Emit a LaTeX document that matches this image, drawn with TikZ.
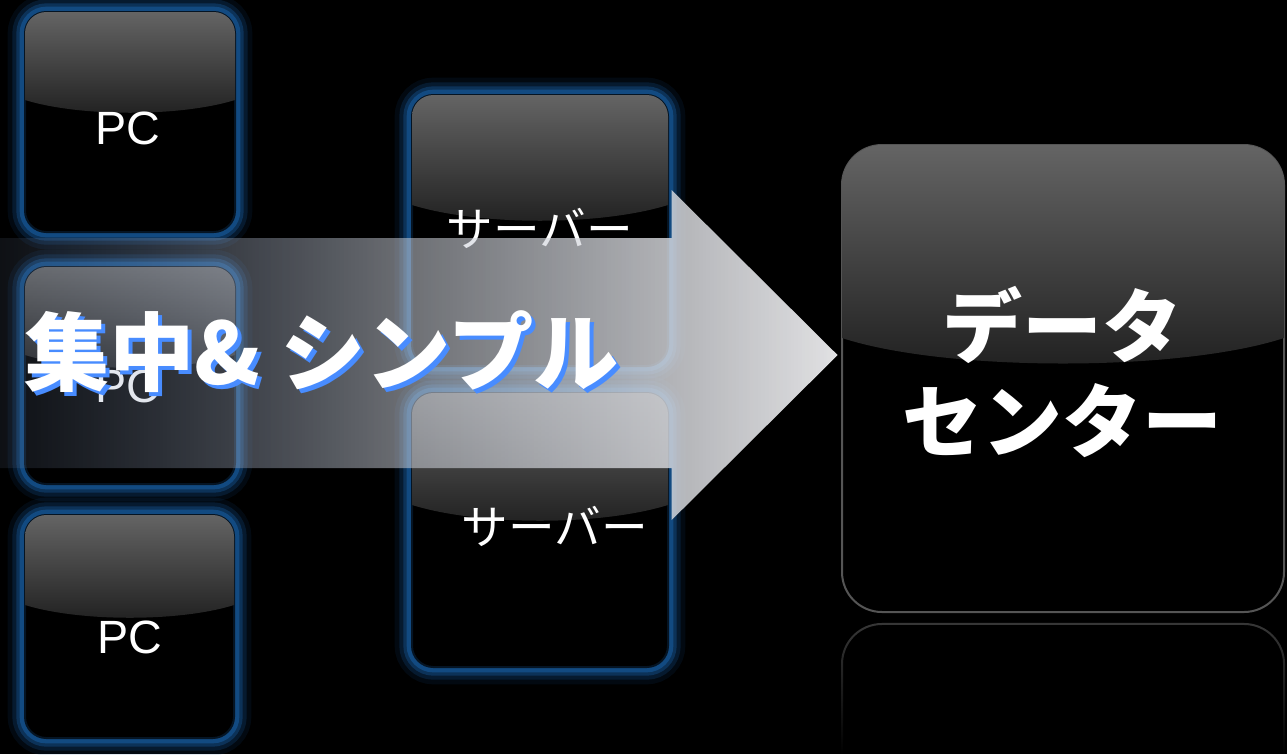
\documentclass[tikz,border=0pt]{standalone}
\usepackage{fontspec}
\setmainfont{Liberation Sans}
\newfontfamily\cjk{Noto Sans CJK JP}
\usetikzlibrary{fadings}

\definecolor{glowblue}{RGB}{20,80,140}
\definecolor{glosstop}{RGB}{100,100,100}
\definecolor{glossbot}{RGB}{32,32,32}
\definecolor{shadowblue}{RGB}{72,140,255}
\definecolor{arrowgray}{RGB}{226,226,228}
\definecolor{arrowblue}{RGB}{120,140,175}
\definecolor{rimgray}{RGB}{85,85,85}

\tikzfading[name=arrowfade, left color=transparent!88, right color=transparent!0, middle color=transparent!45]
\tikzfading[name=mirrorfade, top color=transparent!35, bottom color=transparent!100]

\begin{document}
\begin{tikzpicture}[x=0.75pt,y=-0.75pt,
  glow/.style={preaction={draw=glowblue,line width=26,opacity=0.12},
               preaction={draw=glowblue,line width=19,opacity=0.25},
               preaction={draw=glowblue,line width=13,opacity=0.45},
               preaction={draw=glowblue,line width=8,opacity=0.8}},
  boxfill/.style={fill=black,draw=black!75!glowblue,line width=1.5,rounded corners=16},
  gloss/.style={top color=glosstop,bottom color=glossbot},
  pclabel/.style={text=white,font=\fontsize{35}{35}\selectfont,inner sep=0},
  srvlabel/.style={text=white,font=\cjk\fontsize{35}{35}\selectfont,inner sep=0},
  dclabel/.style={text=white,font=\cjk\bfseries\fontsize{60}{71}\selectfont,align=center,inner sep=0},
  slogan/.style={text=white,font=\cjk\bfseries\fontsize{64}{64}\selectfont,anchor=west,inner sep=0}]
\useasboundingbox (0,0) rectangle (1287,754);
\fill[black] (0,0) rectangle (1287,754);

%Rounded Rect: PC top
\draw[boxfill,glow] (25,12) rectangle (235,232);
\begin{scope}
\clip[rounded corners=16] (25,12) rectangle (235,232);
\shade[gloss] (25,12) -- (235,12) -- (235,100) .. controls (180,117) and (80,117) .. (25,100) -- cycle;
\end{scope}

%Rounded Rect: PC middle
\draw[boxfill,glow] (25,267) rectangle (235,484);
\begin{scope}
\clip[rounded corners=16] (25,267) rectangle (235,484);
\shade[gloss] (25,267) -- (235,267) -- (235,355) .. controls (180,372) and (80,372) .. (25,355) -- cycle;
\end{scope}

%Rounded Rect: PC bottom
\draw[boxfill,glow] (25,515) rectangle (234,738);
\begin{scope}
\clip[rounded corners=16] (25,515) rectangle (234,738);
\shade[gloss] (25,515) -- (234,515) -- (234,605) .. controls (180,622) and (80,622) .. (25,605) -- cycle;
\end{scope}

%Rounded Rect: server top
\draw[boxfill,glow] (412,95) rectangle (668,366);
\begin{scope}
\clip[rounded corners=16] (412,95) rectangle (668,366);
\shade[gloss] (412,95) -- (668,95) -- (668,205) .. controls (600,226) and (480,226) .. (412,205) -- cycle;
\end{scope}

%Rounded Rect: server bottom
\draw[boxfill,glow] (412,393) rectangle (668,667);
\begin{scope}
\clip[rounded corners=16] (412,393) rectangle (668,667);
\shade[gloss] (412,393) -- (668,393) -- (668,505) .. controls (600,526) and (480,526) .. (412,505) -- cycle;
\end{scope}

%Rounded Rect: data center
\draw[fill=black,draw=rimgray,line width=1.5,rounded corners=30] (842,145) rectangle (1284,612);
\begin{scope}
\clip[rounded corners=30] (842,145) rectangle (1284,612);
\shade[gloss] (842,145) -- (1284,145) -- (1284,338) .. controls (1180,372) and (946,372) .. (842,338) -- cycle;
\end{scope}

%Reflection of data center
\draw[rimgray,line width=1.5,rounded corners=30,path fading=mirrorfade] (842,754) -- (842,624) -- (1284,624) -- (1284,754);

\node[pclabel] (pcA) at (128,128) {PC};
\node[pclabel] (pcB) at (128,386) {PC};
\node[pclabel] (pcC) at (130,637) {PC};
\node[srvlabel] (srvA) at (540,228) {サーバー};
\node[srvlabel] (srvB) at (555,526) {サーバー};
\node[dclabel] (dc) at (1062,372) {データ\\センター};

%Shape: Right Arrow
\shade[left color=arrowblue,right color=arrowgray,middle color=arrowgray!80!arrowblue,path fading=arrowfade] (0,238) -- (672,238) -- (672,190) -- (838,355) -- (672,520) -- (672,468) -- (0,468) -- cycle;

\node[slogan,text=shadowblue] (sloganShadow) at (28,356) {集中\& シンプル};
\node[slogan] (slogan) at (24,352) {集中\& シンプル};

\end{tikzpicture}
\end{document}
